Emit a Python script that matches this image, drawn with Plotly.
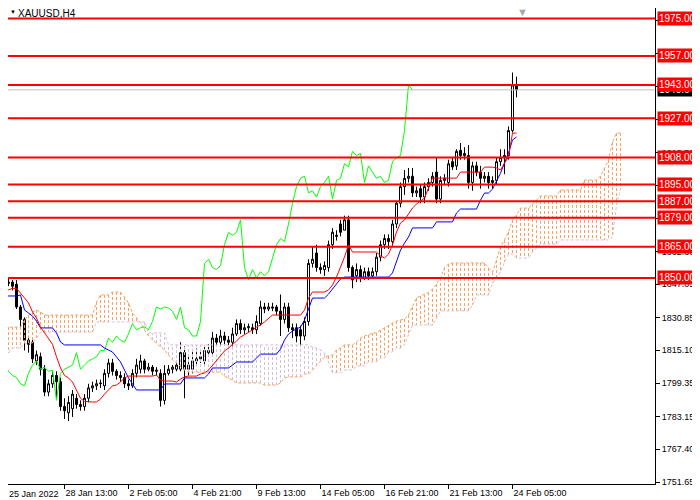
import plotly.graph_objects as go

# H4 bars, index 0 = 25 Jan 21:00
opens = [1854, 1850, 1848, 1848, 1847, 1836, 1830, 1820, 1819, 1810,
         1812, 1806, 1795, 1799, 1803, 1800, 1788, 1785, 1787, 1792,
         1789, 1788, 1792, 1797, 1798, 1799, 1798, 1804, 1809, 1805,
         1803, 1802, 1799, 1798, 1804, 1806, 1810, 1806, 1807, 1805,
         1804, 1791, 1804, 1806, 1806, 1806, 1814, 1806, 1806, 1810,
         1811, 1810, 1814, 1814, 1821, 1819, 1822, 1820, 1819, 1823,
         1828, 1825, 1826, 1826, 1825, 1828, 1836, 1835, 1836, 1836,
         1834, 1830, 1836, 1826, 1826, 1825, 1822, 1829, 1857, 1862,
         1855, 1854, 1855, 1866, 1870, 1876, 1873, 1878, 1855, 1851,
         1854, 1850, 1853, 1851, 1853, 1860, 1866, 1869, 1867.5, 1876,
         1886, 1894, 1898, 1899, 1891, 1893, 1889, 1894, 1896, 1901,
         1888, 1897, 1896, 1906, 1904, 1911.5, 1909, 1909, 1896, 1904,
         1901, 1898, 1899, 1896, 1897, 1906, 1908, 1909, 1921, 1942.5]
highs = [1856, 1851, 1850, 1849, 1849, 1837, 1831, 1822, 1821, 1815,
         1814, 1808, 1801, 1805, 1805, 1802, 1792, 1793, 1796, 1794,
         1791, 1794, 1799, 1800, 1801, 1801, 1806, 1811, 1811, 1806,
         1805, 1804, 1801, 1806, 1811, 1813, 1811, 1809, 1808, 1807,
         1806, 1808, 1808, 1808, 1809, 1819, 1817, 1812, 1815, 1816,
         1815, 1817, 1818, 1824, 1823, 1825, 1824, 1822, 1826, 1830,
         1830, 1828, 1828, 1828, 1832, 1839, 1838, 1838, 1838, 1837,
         1842, 1838, 1838, 1828, 1828, 1827, 1831, 1859, 1865, 1866,
         1857, 1858, 1868, 1874, 1873, 1878, 1880, 1880, 1856, 1857,
         1856, 1855, 1855, 1855, 1862, 1868, 1871, 1871, 1878, 1887,
         1896, 1902, 1903, 1903, 1894, 1895, 1896, 1898, 1901, 1908,
         1899, 1900, 1907, 1908, 1912, 1915, 1913, 1914, 1906, 1906,
         1904, 1901, 1901, 1899, 1908, 1912, 1912, 1923, 1949, 1947]
lows = [1849, 1846, 1846, 1844, 1835, 1826, 1815, 1814, 1809, 1808,
        1803, 1793, 1793, 1797, 1792, 1786, 1782, 1781, 1783, 1787,
        1786, 1786, 1790, 1795, 1796, 1797, 1796, 1802, 1803, 1801,
        1800, 1797, 1796, 1797, 1802, 1804, 1804, 1805, 1803, 1803,
        1788, 1789, 1803, 1804, 1805, 1805, 1792, 1803, 1804, 1808,
        1809, 1808, 1812, 1812, 1817, 1817, 1818, 1816, 1817, 1822,
        1823, 1823, 1824, 1823, 1823, 1827, 1833, 1834, 1834, 1832,
        1822, 1828, 1824, 1821, 1819, 1817, 1820, 1827, 1855, 1853,
        1852, 1851, 1853, 1864, 1868, 1870, 1873, 1853, 1845, 1848,
        1848, 1849, 1849, 1850, 1851, 1858, 1864, 1864, 1865, 1874,
        1884, 1890, 1896, 1889, 1889, 1886, 1886, 1892, 1894, 1886,
        1886, 1895, 1894, 1902, 1902, 1907, 1907, 1893, 1892, 1899,
        1893, 1896, 1893, 1893, 1895, 1904, 1900, 1907, 1920, 1937]
closes = [1851, 1848, 1847.5, 1846, 1836, 1830, 1820, 1818, 1811, 1813,
          1806, 1795, 1799, 1803, 1800, 1788, 1786, 1790, 1794, 1789,
          1788, 1792, 1797, 1798, 1799, 1799.3, 1804, 1809, 1805, 1803,
          1802, 1799, 1798, 1804, 1808, 1810, 1806, 1807, 1805, 1805.5,
          1791, 1804, 1806, 1807, 1808, 1814, 1806, 1808, 1810, 1811,
          1812, 1815, 1815, 1821, 1819, 1822, 1820, 1819, 1823, 1828,
          1825, 1826, 1826.5, 1825, 1829, 1836, 1835, 1836, 1835.5, 1834,
          1830, 1836, 1826, 1825, 1822, 1822, 1829, 1857, 1859, 1855,
          1854, 1856, 1866, 1872, 1870.5, 1872, 1878, 1855, 1849, 1854,
          1850, 1853, 1851, 1853, 1860, 1866, 1869, 1867.5, 1876, 1886,
          1894, 1898, 1899, 1891, 1892, 1889, 1894, 1896, 1899, 1888,
          1897, 1898, 1905, 1903.5, 1911, 1909, 1910, 1896, 1904, 1901,
          1898, 1899, 1896, 1897, 1906, 1908, 1909, 1921, 1943, 1940.64]

tenkan = [1842.7, 1843.5, 1844.2, 1845.0, 1845.0, 1842.7, 1840.0, 1838.0, 1833.6, 1830.7,
          1826.3, 1823.5, 1821.0, 1818.0, 1812.0, 1806.6, 1803.0, 1801.8, 1799.8, 1796.0,
          1792.0, 1790.5, 1790.2, 1790.2, 1790.2, 1791.6, 1794.0, 1796.0, 1798.0, 1798.4,
          1799.8, 1801.8, 1802.7, 1802.7, 1802.7, 1802.7, 1802.7, 1802.7, 1802.7, 1803.2,
          1800.8, 1800.3, 1800.3, 1800.3, 1799.8, 1801.3, 1802.3, 1802.7, 1802.7, 1802.7,
          1803.7, 1804.2, 1805.6, 1808.0, 1810.4, 1812.9, 1814.8, 1816.2, 1817.7, 1819.6,
          1821.5, 1822.5, 1823.5, 1824.9, 1826.3, 1827.3, 1828.8, 1830.7, 1832.1, 1832.1,
          1832.1, 1832.1, 1832.1, 1832.1, 1832.1, 1832.1, 1834.5, 1840.3, 1843.2, 1843.2,
          1843.2, 1843.2, 1844.2, 1846.6, 1850.4, 1854.8, 1860.1, 1865.9, 1862.5, 1862.5,
          1862.5, 1862.5, 1862.5, 1862.5, 1862.5, 1860.6, 1859.6, 1861.5, 1865.9, 1872.1,
          1876.5, 1877.9, 1880.8, 1883.7, 1885.6, 1887.1, 1888.5, 1893.3, 1898.1, 1898.1,
          1898.1, 1898.1, 1898.1, 1898.1, 1898.1, 1901.0, 1901.0, 1901.0, 1901.0, 1901.0,
          1901.0, 1903.4, 1903.4, 1903.4, 1903.0, 1902.0, 1905.4, 1908.3, 1919.8, 1919.8]
kijun = [1841.3, 1841.3, 1841.3, 1841.3, 1841.3, 1841.8, 1834.5, 1833.1, 1831.6, 1829.2,
         1825.9, 1825.9, 1825.9, 1825.9, 1823.5, 1819.1, 1817.7, 1817.7, 1817.7, 1817.7,
         1817.7, 1817.7, 1817.7, 1817.7, 1817.7, 1817.7, 1816.2, 1815.3, 1814.3, 1811.9,
         1809.5, 1805.6, 1801.8, 1798.9, 1796.0, 1796.0, 1796.0, 1796.0, 1796.0, 1796.0,
         1796.0, 1798.9, 1798.9, 1798.9, 1798.9, 1798.9, 1801.8, 1801.8, 1801.8, 1801.8,
         1801.8, 1801.8, 1803.7, 1806.6, 1806.6, 1806.6, 1806.6, 1806.6, 1808.0, 1809.5,
         1809.5, 1809.5, 1809.5, 1809.5, 1811.4, 1813.3, 1813.3, 1813.3, 1813.3, 1813.3,
         1815.7, 1820.1, 1822.9, 1824.4, 1825.4, 1826.3, 1829.7, 1835.5, 1840.3, 1840.3,
         1840.3, 1840.3, 1842.2, 1844.7, 1847.5, 1849.5, 1850.4, 1850.4, 1850.4, 1850.4,
         1850.4, 1850.4, 1850.4, 1850.4, 1850.4, 1850.4, 1850.4, 1850.4, 1852.4, 1857.7,
         1863.4, 1866.8, 1869.7, 1874.1, 1874.1, 1874.1, 1874.1, 1874.1, 1874.1, 1877.0,
         1877.0, 1877.0, 1877.0, 1877.0, 1881.3, 1883.2, 1883.2, 1883.2, 1883.2, 1883.2,
         1887.5, 1890.9, 1890.9, 1892.8, 1896.7, 1900.5, 1905.4, 1910.2, 1916.5, 1917.9]

# cloud, already shifted 26 bars forward (index 0 = first bar on screen)
span_a = [1824.9, 1826.3, 1826.3, 1826.3, 1826.3, 1826.3, 1829.7, 1832.0, 1833.6, 1834.5,
          1833.6, 1832.1, 1832.1, 1832.1, 1832.1, 1832.1, 1832.1, 1832.1, 1832.1, 1832.1,
          1832.1, 1832.1, 1832.1, 1832.1, 1838.4, 1841.8, 1841.8, 1841.8, 1843.2, 1843.2,
          1843.2, 1840.8, 1837.9, 1833.1, 1830.7, 1828.5, 1824.9, 1822.0, 1820.1, 1818.6,
          1816.7, 1815.3, 1812.9, 1810.4, 1809.0, 1807.1, 1805.6, 1804.6, 1804.6, 1804.6,
          1804.6, 1804.6, 1804.6, 1804.6, 1804.6, 1804.6, 1802.7, 1801.8, 1800.8, 1799.4,
          1799.4, 1799.4, 1799.4, 1799.4, 1799.4, 1799.4, 1798.4, 1798.4, 1798.4, 1798.4,
          1799.4, 1801.8, 1802.3, 1802.3, 1802.3, 1802.3, 1803.7, 1803.7, 1805.6, 1807.6,
          1810.0, 1811.9, 1812.4, 1812.9, 1815.3, 1816.2, 1817.7, 1817.7, 1817.7, 1819.1,
          1821.0, 1822.0, 1822.5, 1823.5, 1823.5, 1824.9, 1826.0, 1827.3, 1828.3, 1829.2,
          1829.7, 1830.2, 1832.1, 1836.0, 1840.3, 1841.3, 1842.0, 1843.0, 1844.7, 1847.0,
          1850.0, 1855.0, 1856.7, 1857.2, 1857.2, 1857.2, 1857.2, 1857.2, 1857.2, 1857.2,
          1857.2, 1857.2, 1854.8, 1852.8, 1858.6, 1864.9, 1868.3, 1872.1, 1877.9, 1880.3,
          1883.7, 1883.7, 1883.7, 1885.6, 1887.5, 1889.5, 1889.5, 1889.5, 1889.5, 1889.5,
          1892.4, 1892.4, 1892.4, 1892.4, 1892.4, 1892.4, 1897.2, 1897.2, 1897.2, 1897.2,
          1899.1, 1902.9, 1906.8, 1915.5, 1919.8, 1919.8]
span_b = [1811.9, 1813.8, 1813.8, 1816.2, 1816.2, 1816.2, 1818.6, 1818.6, 1818.6, 1821.0,
          1823.9, 1823.9, 1823.9, 1823.9, 1823.9, 1823.9, 1823.9, 1823.9, 1823.9, 1823.9,
          1823.9, 1823.9, 1823.9, 1823.9, 1828.8, 1828.8, 1828.8, 1828.8, 1828.8, 1828.8,
          1828.8, 1828.8, 1828.8, 1828.8, 1828.8, 1828.8, 1828.8, 1823.5, 1823.5, 1823.5,
          1823.5, 1823.5, 1817.7, 1817.7, 1817.7, 1817.7, 1817.7, 1817.7, 1817.7, 1817.7,
          1817.7, 1817.7, 1817.7, 1817.7, 1817.7, 1817.7, 1817.7, 1817.7, 1817.7, 1817.7,
          1817.7, 1817.7, 1817.7, 1817.7, 1817.7, 1817.7, 1817.7, 1817.7, 1817.7, 1817.7,
          1817.7, 1817.7, 1817.7, 1817.7, 1817.7, 1817.7, 1817.7, 1817.7, 1816.7, 1816.2,
          1815.3, 1813.8, 1809.5, 1804.3, 1804.3, 1804.3, 1805.6, 1805.6, 1805.6, 1807.6,
          1807.6, 1807.6, 1809.5, 1809.5, 1809.5, 1811.4, 1811.4, 1814.3, 1814.3, 1816.2,
          1816.2, 1817.7, 1822.5, 1827.3, 1827.3, 1827.3, 1827.3, 1827.3, 1827.3, 1830.7,
          1834.1, 1834.1, 1834.1, 1834.1, 1834.1, 1834.1, 1834.1, 1834.1, 1837.0, 1841.8,
          1841.8, 1841.8, 1841.8, 1847.5, 1849.9, 1852.8, 1857.7, 1861.5, 1861.5, 1859.6,
          1859.6, 1859.6, 1859.6, 1862.5, 1864.4, 1866.3, 1866.3, 1866.3, 1866.3, 1866.3,
          1868.3, 1868.3, 1868.3, 1868.3, 1868.3, 1868.3, 1868.3, 1868.3, 1868.3, 1868.3,
          1868.3, 1868.3, 1868.3, 1869.7, 1885.1, 1892.9]

levels = [1975, 1957, 1943, 1927, 1908, 1895, 1887, 1879, 1865, 1850]
bid = 1940.64
ytick_vals = [1751.65, 1767.40, 1783.15, 1799.35, 1815.10, 1830.85, 1847.05, 1862.80,
              1878.55, 1894.75, 1910.50, 1926.25, 1942.45, 1958.20, 1973.95]
# labels that the level boxes hide completely are left blank
ytick_text = ["1751.65", "1767.40", "1783.15", "1799.35", "1815.10", "1830.85", "1847.05", "1862.80",
              "", "", "1910.50", "", "", "", ""]
first_label = "25 Jan 2022"
xtick_bars = [16, 32, 48, 64, 80, 96, 112, 128]
xtick_text = ["28 Jan 13:00", "2 Feb 05:00", "4 Feb 21:00", "9 Feb 13:00",
              "14 Feb 05:00", "16 Feb 21:00", "21 Feb 13:00", "24 Feb 05:00"]

bars = list(range(len(closes)))
cloud_bars = list(range(len(span_a)))

# vertical dotted hatching of the kumo
up_x, up_y, dn_x, dn_y = [], [], [], []
for i, a, b in zip(cloud_bars, span_a, span_b):
    if a >= b:
        up_x += [i, i, None]
        up_y += [a, b, None]
    else:
        dn_x += [i, i, None]
        dn_y += [a, b, None]

SANDY = "#F4A460"
THISTLE = "#D8BFD8"
DOTS = "3px,2px"
FONT = "Liberation Sans"

# page body has an 8px margin, so the figure is 8px smaller and starts near bar 2
# (half a pixel offset keeps 1px wicks and hatching crisp)
W, H = 692, 492
PLOT_W, PLOT_H = 647, 476

fig = go.Figure()
fig.add_trace(go.Scatter(x=up_x, y=up_y, mode="lines", line=dict(color=SANDY, width=1, dash=DOTS), hoverinfo="skip"))
fig.add_trace(go.Scatter(x=dn_x, y=dn_y, mode="lines", line=dict(color=THISTLE, width=1, dash=DOTS), hoverinfo="skip"))
fig.add_trace(go.Scatter(x=cloud_bars, y=span_b, mode="lines", line=dict(color=THISTLE, width=1, dash=DOTS)))
fig.add_trace(go.Scatter(x=cloud_bars, y=span_a, mode="lines", line=dict(color=SANDY, width=1, dash=DOTS)))

fig.add_trace(go.Scatter(x=[i - 26 for i in bars[26:]], y=closes[26:], mode="lines",
                         line=dict(color="#00FF00", width=1)))
fig.add_trace(go.Scatter(x=bars, y=kijun, mode="lines", line=dict(color="#0000FF", width=1)))
fig.add_trace(go.Scatter(x=bars, y=tenkan, mode="lines", line=dict(color="#FF0000", width=1)))

fig.add_trace(go.Candlestick(
    x=bars, open=opens, high=highs, low=lows, close=closes,
    increasing=dict(line=dict(color="black", width=1), fillcolor="white"),
    decreasing=dict(line=dict(color="black", width=1), fillcolor="black"),
    whiskerwidth=0,
))

fig.add_shape(type="line", xref="paper", x0=0, x1=1, y0=bid, y1=bid,
              line=dict(color="#C0C0C0", width=1))
for lv in levels:
    fig.add_shape(type="line", xref="paper", x0=0, x1=1, y0=lv, y1=lv,
                  line=dict(color="#FF0000", width=2))

fig.add_annotation(x=1, xref="paper", y=bid, yref="y", text=f"{bid:.2f}", showarrow=False,
                   xanchor="left", xshift=2, bgcolor="black", borderpad=1,
                   font=dict(color="white", size=10, family=FONT))
for lv in levels:
    fig.add_annotation(x=1, xref="paper", y=lv, yref="y", text=f"{lv:.2f}", showarrow=False,
                       xanchor="left", xshift=2, bgcolor="#FF0000", borderpad=1,
                       font=dict(color="white", size=10, family=FONT))

fig.add_annotation(x=0, xref="paper", y=1, yref="paper", text="▼", showarrow=False,
                   xanchor="left", yanchor="top", yshift=1, font=dict(size=6, color="black"))
fig.add_annotation(x=8 / PLOT_W, xref="paper", y=1, yref="paper", text="XAUUSD,H4",
                   showarrow=False, xanchor="left", yanchor="top", yshift=2,
                   font=dict(size=10, color="black", family=FONT))
fig.add_annotation(x=130.4, xref="x", y=1, yref="paper", text="▼", showarrow=False,
                   yanchor="top", yshift=4, font=dict(size=11, color="#A8A8A8"))
# first date label belongs to bar 0, which lies under the page margin
fig.add_annotation(x=0, xref="paper", y=0, yref="paper", text=first_label, showarrow=False,
                   xanchor="left", yanchor="top", yshift=-3, xshift=-1,
                   font=dict(size=9, color="black", family=FONT))

fig.update_layout(
    width=W, height=H,
    margin=dict(l=0, r=W - PLOT_W, t=0, b=H - PLOT_H, autoexpand=False),
    paper_bgcolor="white", plot_bgcolor="white",
    showlegend=False,
    boxgap=0.28,
    font=dict(family=FONT, size=10, color="black"),
    xaxis=dict(range=[1.875, 163.625], tickmode="array", tickvals=xtick_bars, ticktext=xtick_text,
               ticks="outside", ticklen=4, tickcolor="black", ticklabelposition="outside right",
               tickangle=0, tickfont=dict(size=9, family=FONT),
               showline=True, linecolor="black", linewidth=1, showgrid=False, zeroline=False,
               rangeslider=dict(visible=False)),
    yaxis=dict(range=[1750.69, 1980.08], side="right", tickmode="array", tickvals=ytick_vals,
               ticktext=ytick_text, ticks="outside", ticklen=4, tickfont=dict(size=9, family=FONT),
               tickcolor="black", showline=True, linecolor="black", linewidth=1,
               showgrid=False, zeroline=False),
)

fig.write_html("out.html")
